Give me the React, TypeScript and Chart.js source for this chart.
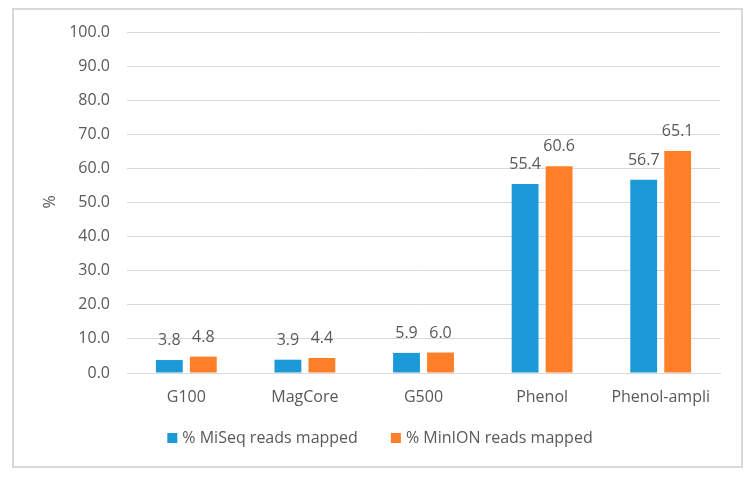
import React, { useEffect, useRef } from "react";
import { Chart, registerables } from "chart.js";

Chart.register(...registerables);

const categories = ["G100", "MagCore", "G500", "Phenol", "Phenol-ampli"];
const miseqValues = [3.8, 3.9, 5.9, 55.4, 56.7];
const minionValues = [4.8, 4.4, 6.0, 60.6, 65.1];
const seriesNames = ["% MiSeq reads mapped", "% MinION reads mapped"];
const seriesColors = ["#1B9AD7", "#FE7F27"];
const yTitle = "%";

const FONT = "'Open Sans', 'Noto Sans', sans-serif";
const TEXT = "#595959";
const FS = 16;

export default function App() {
  const ref = useRef<HTMLCanvasElement | null>(null);

  useEffect(() => {
    const canvas = ref.current;
    if (!canvas) return;

    const decor = {
      id: "decor",
      beforeDraw(chart: any) {
        const ctx = chart.ctx;
        ctx.save();
        ctx.fillStyle = "#ffffff";
        ctx.fillRect(0, 0, chart.width, chart.height);
        ctx.strokeStyle = "#d9d9d9";
        ctx.lineWidth = 2;
        ctx.strokeRect(13, 9, 729, 458);
        ctx.restore();
      },
      afterDraw(chart: any) {
        const ctx = chart.ctx;
        ctx.save();
        ctx.font = `${FS}px ${FONT}`;
        ctx.fillStyle = TEXT;
        // data labels
        chart.data.datasets.forEach((ds: any, di: number) => {
          const meta = chart.getDatasetMeta(di);
          meta.data.forEach((bar: any, i: number) => {
            ctx.textAlign = "center";
            ctx.textBaseline = "alphabetic";
            ctx.fillText(Number(ds.data[i]).toFixed(1), bar.x, bar.y - 15);
          });
        });
        // y title
        ctx.save();
        ctx.translate(50, 202);
        ctx.rotate(-Math.PI / 2);
        ctx.textAlign = "center";
        ctx.textBaseline = "middle";
        ctx.fillText(yTitle, 0, 0);
        ctx.restore();
        // legend
        const box = 10;
        const gapBoxText = 5;
        const gapItems = 33;
        const widths = seriesNames.map((n) => ctx.measureText(n).width);
        const total =
          widths.reduce((a: number, w: number) => a + box + gapBoxText + w, 0) +
          gapItems * (seriesNames.length - 1);
        let x = 380 - total / 2;
        const y = 438;
        seriesNames.forEach((name, i) => {
          ctx.fillStyle = seriesColors[i];
          ctx.fillRect(x, y - box / 2, box, box);
          ctx.fillStyle = TEXT;
          ctx.textAlign = "left";
          ctx.textBaseline = "middle";
          ctx.fillText(name, x + box + gapBoxText, y);
          x += box + gapBoxText + widths[i] + gapItems;
        });
        ctx.restore();
      },
    };

    const chart = new Chart(canvas, {
      type: "bar",
      data: {
        labels: categories,
        datasets: [
          {
            label: seriesNames[0],
            data: miseqValues,
            backgroundColor: seriesColors[0],
            categoryPercentage: 0.573,
            barPercentage: 0.79,
          },
          {
            label: seriesNames[1],
            data: minionValues,
            backgroundColor: seriesColors[1],
            categoryPercentage: 0.573,
            barPercentage: 0.79,
          },
        ],
      },
      options: {
        responsive: false,
        animation: false,
        devicePixelRatio: 1,
        layout: { padding: { left: 0, right: 35, top: 32, bottom: 0 } },
        plugins: {
          legend: { display: false },
          tooltip: { enabled: false },
          title: { display: false },
        },
        scales: {
          x: {
            grid: { display: false, drawTicks: false },
            border: { display: true, color: "#d9d9d9", width: 1 },
            ticks: {
              color: TEXT,
              font: { family: FONT, size: FS },
              padding: 15,
              maxRotation: 0,
              autoSkip: false,
            },
            afterFit(scale: any) {
              scale.height = 106;
            },
          },
          y: {
            min: 0,
            max: 100,
            grid: { color: "#d9d9d9", lineWidth: 1, drawTicks: false },
            border: { display: false },
            ticks: {
              stepSize: 10,
              color: TEXT,
              font: { family: FONT, size: FS },
              padding: 17,
              callback: (v: any) => Number(v).toFixed(1),
            },
            afterFit(scale: any) {
              scale.width = 127;
            },
          },
        },
      },
      plugins: [decor],
    });

    return () => chart.destroy();
  }, []);

  return (
    <div style={{ position: "fixed", left: 0, top: 0, width: 755, height: 479, background: "#fff" }}>
      <canvas ref={ref} width={755} height={479} style={{ width: 755, height: 479, display: "block" }} />
    </div>
  );
}
